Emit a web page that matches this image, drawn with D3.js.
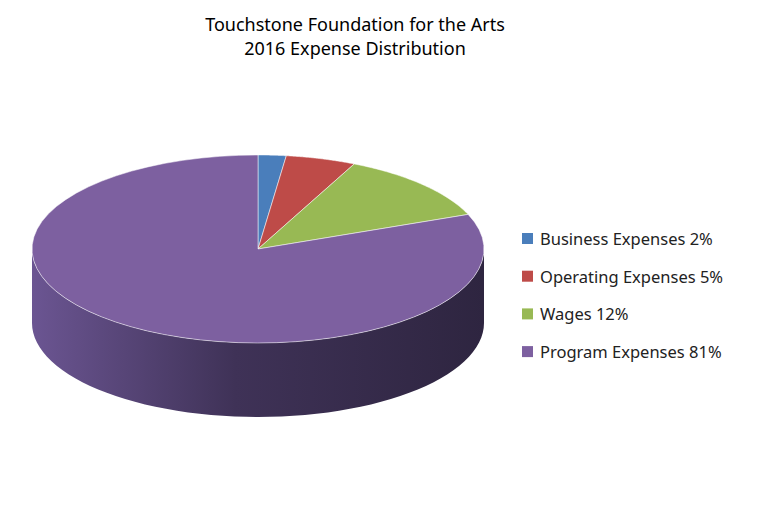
<!DOCTYPE html>
<html><head><meta charset="utf-8">
<script src="https://cdn.jsdelivr.net/npm/d3@7"></script>
<style>body{margin:0;background:#fff}</style>
</head><body>
<script>
const labels = ["Business Expenses 2%", "Operating Expenses  5%", "Wages 12%", "Program Expenses 81%"];
const values = [2, 5, 12, 81];
const colors = ["#4a7ebb", "#be4b48", "#98b954", "#7d60a0"];

const W = 768, H = 527;
const svg = d3.select("body").append("svg").attr("width", W).attr("height", H);

svg.append("text").attr("x", 355).attr("y", 31).attr("text-anchor", "middle")
  .style("font-family", "Noto Sans").style("font-size", "18px").text("Touchstone Foundation for the Arts");
svg.append("text").attr("x", 355).attr("y", 55).attr("text-anchor", "middle")
  .style("font-family", "Noto Sans").style("font-size", "18px").text("2016 Expense Distribution");

// 3D pie geometry
const cx = 258, cy = 249, rx = 226, ry = 94, depth = 74;
const pt = (a, dy = 0) => [cx + rx * Math.sin(a), cy - ry * Math.cos(a) + dy];
const arcPts = (a0, a1, dy = 0) => d3.range(0, 61).map(i => pt(a0 + (a1 - a0) * i / 60, dy));

const arcs = d3.pie().sort(null)(values);

const defs = svg.append("defs");
const grad = defs.append("linearGradient").attr("id", "side").attr("x1", "0").attr("x2", "1");
grad.append("stop").attr("offset", "0").attr("stop-color", "#6b5592");
grad.append("stop").attr("offset", "0.45").attr("stop-color", "#3f3257");
grad.append("stop").attr("offset", "1").attr("stop-color", "#2e2540");

const line = d3.line();

// side wall (front half, belongs to the last slice)
arcs.forEach((d, i) => {
  const a0 = Math.max(d.startAngle, Math.PI / 2), a1 = Math.min(d.endAngle, 3 * Math.PI / 2);
  if (a1 <= a0) return;
  const pts = arcPts(a0, a1).concat(arcPts(a1, a0, depth));
  svg.append("path").attr("d", line(pts) + "Z").attr("fill", i === 3 ? "url(#side)" : d3.color(colors[i]).darker(1.2));
});

// top faces
arcs.forEach((d, i) => {
  const pts = [[cx, cy]].concat(arcPts(d.startAngle, d.endAngle));
  svg.append("path").attr("d", line(pts) + "Z").attr("fill", colors[i])
    .attr("stroke", "#fff").attr("stroke-width", 0.5);
});

// legend
const lg = svg.append("g");
labels.forEach((t, i) => {
  const y = 240 + i * 37.7;
  lg.append("rect").attr("x", 522).attr("y", y - 7).attr("width", 11).attr("height", 11).attr("fill", colors[i]);
  lg.append("text").attr("x", 540).attr("y", y + 5).style("font-family", "Noto Sans").style("font-size", "16.5px")
    .attr("fill", "#222").text(t);
});
</script>
</body></html>
